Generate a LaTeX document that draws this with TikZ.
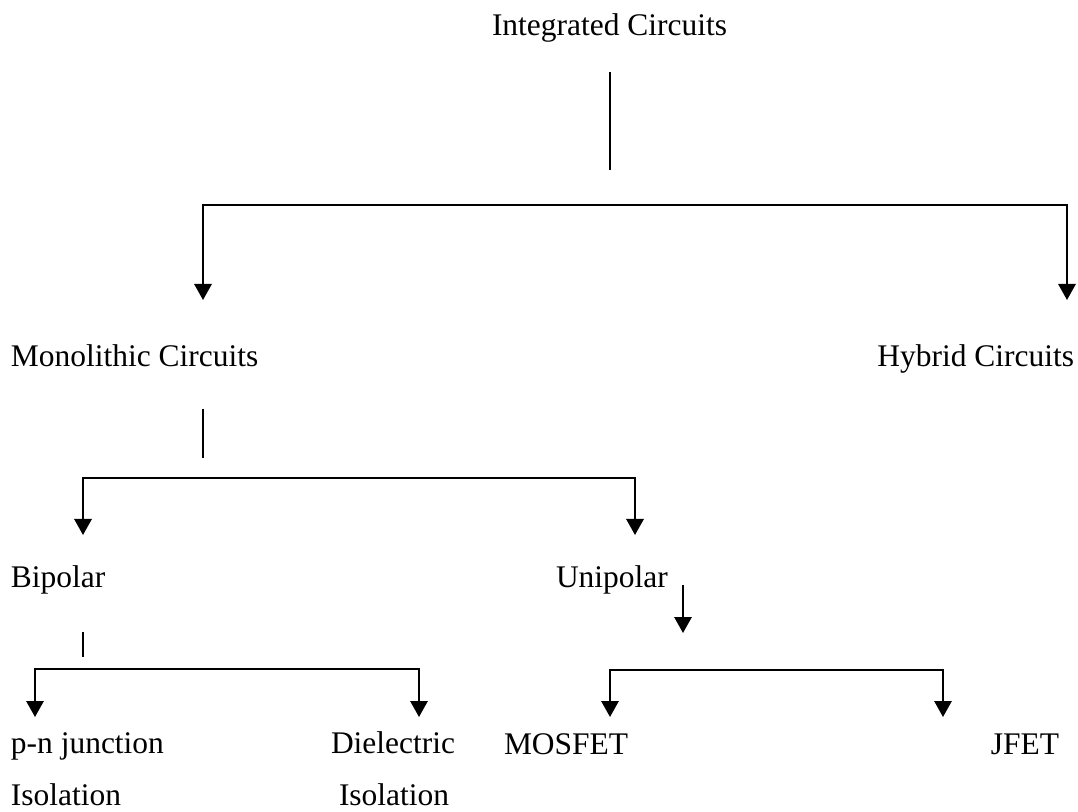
\documentclass[tikz,border=0pt]{standalone}
\usepackage{fontspec}
\setmainfont{Liberation Serif}
\usetikzlibrary{arrows.meta}
\tikzset{
  lbl/.style={inner sep=0pt, outer sep=0pt, font=\fontsize{23.6pt}{28pt}\selectfont},
  conn/.style={line width=1.5pt, line join=miter},
  arr/.style={conn, -{Triangle[width=13pt,length=12pt]}},
  arr2/.style={conn, {Triangle[width=13pt,length=12pt]}-{Triangle[width=13pt,length=12pt]}}
}
\begin{document}
\begin{tikzpicture}[x=0.75pt,y=-0.75pt]
\useasboundingbox (0,0) rectangle (1078,812);
% texts
\node[lbl,anchor=base west] (ic) at (492,36) {Integrated Circuits};
\node[lbl,anchor=base west] (mono) at (11,367) {Monolithic Circuits};
\node[lbl,anchor=base east] (hyb) at (1074,367) {Hybrid Circuits};
\node[lbl,anchor=base west] (bip) at (11,587) {Bipolar};
\node[lbl,anchor=base west] (uni) at (556,587) {Unipolar};
\node[lbl,anchor=base west] (pn) at (11,753) {p-n junction};
\node[lbl,anchor=base west] (pniso) at (11,805) {Isolation};
\node[lbl,anchor=base west] (die) at (331,753) {Dielectric};
\node[lbl,anchor=base west] (dieiso) at (339,805) {Isolation};
\node[lbl,anchor=base west] (mos) at (504,754) {MOSFET};
\node[lbl,anchor=base east] (jfet) at (1059,754) {JFET};
% connector points
\coordinate (icA) at (610,72);
\coordinate (icB) at (610,170);
\coordinate (t1) at (203,300);
\coordinate (t2) at (203,205);
\coordinate (t3) at (1067,205);
\coordinate (t4) at (1067,300);
\coordinate (mA) at (203,409);
\coordinate (mB) at (203,458);
\coordinate (m1) at (83,535);
\coordinate (m2) at (83,478);
\coordinate (m3) at (635,478);
\coordinate (m4) at (635,535);
\coordinate (bA) at (83,632);
\coordinate (bB) at (83,657);
\coordinate (b1) at (35,717);
\coordinate (b2) at (35,669);
\coordinate (b3) at (419,669);
\coordinate (b4) at (419,717);
\coordinate (uA) at (683,585);
\coordinate (uB) at (683,633);
\coordinate (u1) at (610,717);
\coordinate (u2) at (610,670);
\coordinate (u3) at (943,670);
\coordinate (u4) at (943,717);
% connectors
\draw[conn] (icA) -- (icB);
\draw[arr2] (t1) -- (t2) -- (t3) -- (t4);
\draw[conn] (mA) -- (mB);
\draw[arr2] (m1) -- (m2) -- (m3) -- (m4);
\draw[conn] (bA) -- (bB);
\draw[arr2] (b1) -- (b2) -- (b3) -- (b4);
\draw[arr] (uA) -- (uB);
\draw[arr2] (u1) -- (u2) -- (u3) -- (u4);
\end{tikzpicture}
\end{document}
